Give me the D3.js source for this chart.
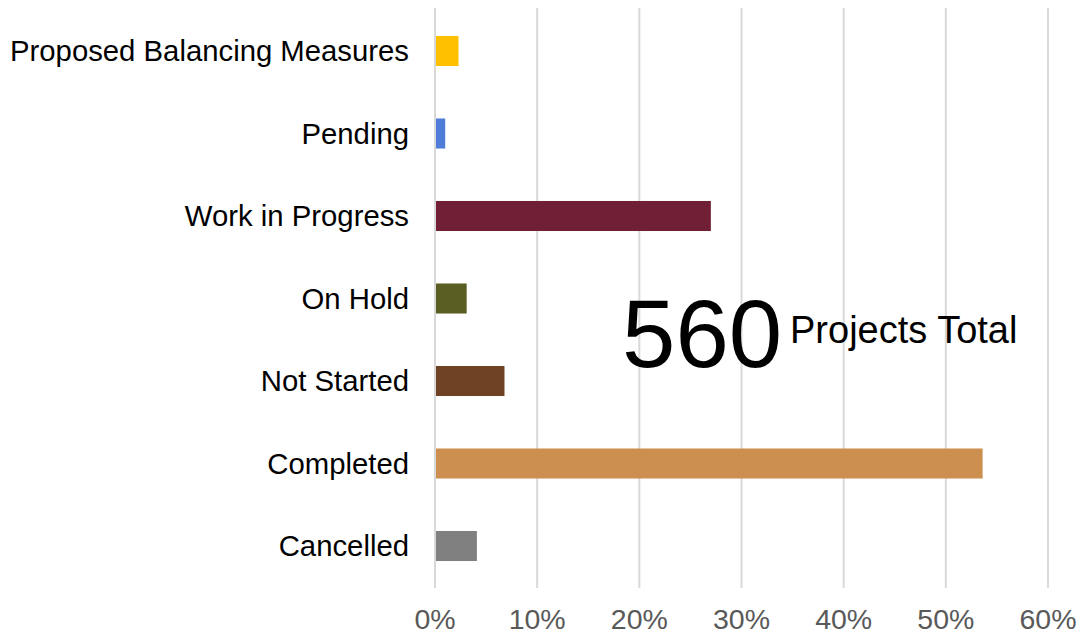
<!DOCTYPE html>
<html>
<head>
<meta charset="utf-8">
<script src="https://cdn.jsdelivr.net/npm/d3@7"></script>
<style>
  body { margin: 0; background: #fff; }
  svg { display: block; font-family: Arial, "Liberation Sans", sans-serif; }
</style>
</head>
<body>
<script>
var width = 1080, height = 635;

// data, top row first
var categories = ["Proposed Balancing Measures", "Pending", "Work in Progress", "On Hold", "Not Started", "Completed", "Cancelled"];
var shares = [2.3, 1.0, 27.0, 3.1, 6.8, 53.6, 4.1];
var colors = ["#FFC000", "#4F7BD9", "#711F35", "#5A5E22", "#6F4225", "#CD8F50", "#808080"];
var ticks = [0, 10, 20, 30, 40, 50, 60];
var totalProjects = 560;

var svg = d3.select("body").append("svg")
            .attr("width", width)
            .attr("height", height);

var x = d3.scaleLinear().domain([0, 60]).range([435, 1048]);
var y = d3.scaleBand().domain(categories).range([9.75, 587.25])
          .paddingInner(0.636).paddingOuter(0.318);

// gridlines
svg.append("g").selectAll("line")
   .data(ticks)
   .enter().append("line")
   .attr("x1", function(d){ return x(d); })
   .attr("x2", function(d){ return x(d); })
   .attr("y1", 8)
   .attr("y2", 588)
   .style("stroke", "#d9d9d9")
   .style("stroke-width", 2);

// bars
svg.append("g").selectAll("rect")
   .data(categories)
   .enter().append("rect")
   .attr("x", x(0) + 1)
   .attr("y", function(d){ return y(d); })
   .attr("width", function(d, i){ return x(shares[i]) - x(0) - 1; })
   .attr("height", y.bandwidth())
   .style("fill", function(d, i){ return colors[i]; });

// category labels
svg.append("g").selectAll("text")
   .data(categories)
   .enter().append("text")
   .attr("x", 409)
   .attr("y", function(d){ return y(d) + y.bandwidth()/2; })
   .attr("dy", "0.35em")
   .attr("text-anchor", "end")
   .style("font-size", "29.3px")
   .style("fill", "#000")
   .text(function(d){ return d; });

// x tick labels
svg.append("g").selectAll("text")
   .data(ticks)
   .enter().append("text")
   .attr("x", function(d){ return x(d); })
   .attr("y", 629)
   .attr("text-anchor", "middle")
   .style("font-size", "28.5px")
   .style("fill", "#595959")
   .text(function(d){ return d + "%"; });

// total annotation
svg.append("text")
   .attr("x", 622)
   .attr("y", 367)
   .style("font-size", "96px")
   .style("fill", "#000")
   .text(totalProjects);

svg.append("text")
   .attr("x", 790)
   .attr("y", 343)
   .style("font-size", "38px")
   .style("fill", "#000")
   .text("Projects Total");
</script>
</body>
</html>
